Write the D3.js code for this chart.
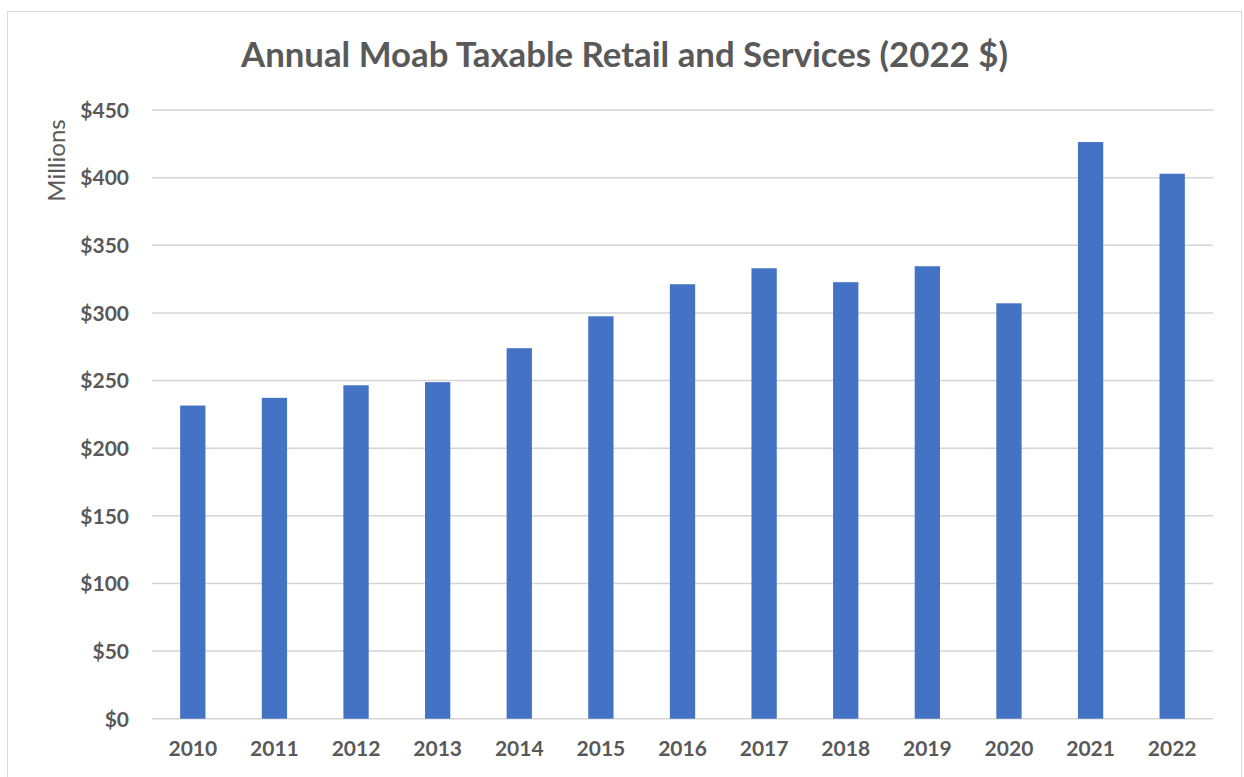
<!DOCTYPE html>
<html>
<head>
<meta charset="utf-8">
<script src="https://cdn.jsdelivr.net/npm/d3@7"></script>
<style>
  html, body { margin: 0; padding: 0; background: #fff; }
  svg { display: block; }
</style>
</head>
<body>
<svg id="chart" width="1244" height="777"></svg>
<script>
// Annual taxable retail and services sales, Moab (millions, 2022 dollars)
const years = ["2010","2011","2012","2013","2014","2015","2016","2017","2018","2019","2020","2021","2022"];
const sales = [231.5, 237.2, 246.5, 248.8, 273.9, 297.5, 321.2, 333.0, 322.7, 334.5, 307.1, 426.3, 402.9];
const yTicks = [0, 50, 100, 150, 200, 250, 300, 350, 400, 450];

const W = 1244, H = 777;
const margin = { top: 110, right: 31, bottom: 58, left: 152 };
const svg = d3.select("#chart");
const textColor = "#595959";
const font = "Lato, 'Open Sans', sans-serif";

// chart frame
svg.append("rect")
  .attr("x", 7.5).attr("y", 11.5)
  .attr("width", 1234).attr("height", 790)
  .attr("fill", "#fff").attr("stroke", "#d9d9d9").attr("stroke-width", 1);

const x = d3.scaleBand()
  .domain(years)
  .range([margin.left, W - margin.right])
  .paddingInner(0.69).paddingOuter(0.345);

const y = d3.scaleLinear()
  .domain([0, 450])
  .range([H - margin.bottom - 0.3, margin.top]);

// horizontal gridlines
svg.append("g")
  .selectAll("line")
  .data(yTicks)
  .join("line")
  .attr("x1", margin.left).attr("x2", W - margin.right)
  .attr("y1", d => y(d)).attr("y2", d => y(d))
  .attr("stroke", "#d4d4d4").attr("stroke-width", 1.5);

// bars
svg.append("g")
  .selectAll("rect")
  .data(years.map((yr, i) => ({ yr, v: sales[i] })))
  .join("rect")
  .attr("x", d => x(d.yr))
  .attr("width", x.bandwidth())
  .attr("y", d => y(d.v))
  .attr("height", d => y(0) - y(d.v))
  .attr("fill", "#4472c4");

// y axis labels
const yAxis = d3.axisLeft(y)
  .tickValues(yTicks)
  .tickSize(0)
  .tickPadding(0)
  .tickFormat(d => "$" + d);
svg.append("g")
  .attr("transform", `translate(${margin.left - 23},0)`)
  .call(yAxis)
  .call(g => g.select(".domain").remove())
  .selectAll("text")
  .attr("font-family", font).attr("font-weight", 700)
  .attr("font-size", 21).attr("fill", textColor)
  .attr("dy", "0.35em");

// x axis labels
const xAxis = d3.axisBottom(x).tickSize(0).tickPadding(0);
svg.append("g")
  .attr("transform", `translate(0,${y(0) + 22})`)
  .call(xAxis)
  .call(g => g.select(".domain").remove())
  .selectAll("text")
  .attr("font-family", font).attr("font-weight", 700)
  .attr("font-size", 21).attr("fill", textColor)
  .attr("dy", "0.71em");

// title
const title = svg.append("text")
  .attr("x", 624.5).attr("y", 67)
  .attr("text-anchor", "middle")
  .attr("font-family", font).attr("font-weight", 700)
  .attr("font-size", 31).attr("fill", textColor)
  .text("Annual Moab Taxable Retail and Services (2022 $)");
const tw = title.node().getComputedTextLength();
title.attr("font-size", 31 * 767 / tw);

// y axis title
svg.append("text")
  .attr("transform", "translate(65,160.5) rotate(-90)")
  .attr("text-anchor", "middle")
  .attr("font-family", font).attr("font-weight", 400)
  .attr("font-size", 24).attr("fill", textColor)
  .text("Millions");
</script>
</body>
</html>
